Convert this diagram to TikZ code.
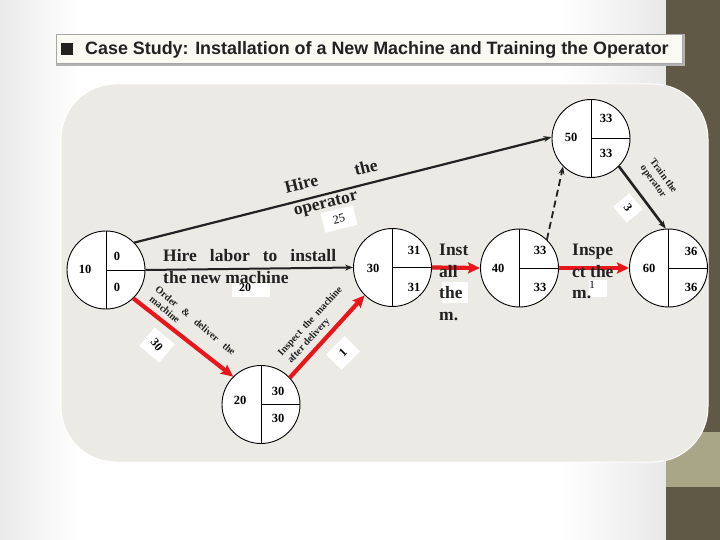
\documentclass[tikz,border=0pt]{standalone}
\usepackage{fontspec}
\setmainfont{Liberation Serif}
\newfontfamily\titlefont{Liberation Sans}
\usetikzlibrary{arrows.meta}

\definecolor{panel}{HTML}{EBEAE4}
\definecolor{barcol}{HTML}{5F5946}
\definecolor{khaki}{HTML}{A9A687}
\definecolor{redline}{HTML}{E8161B}
\definecolor{ink}{HTML}{222222}
\definecolor{titlefill}{HTML}{FAFAF2}

\tikzset{
  event/.style={circle, draw=black, line width=0.9pt, fill=white, minimum size=78pt, inner sep=0pt},
  divider/.style={draw=black, line width=0.9pt},
  num/.style={font=\fontsize{12.5}{14}\selectfont\bfseries, text=black, inner sep=0pt},
  blackarr/.style={draw=ink, line width=2.2pt, -{Stealth[length=8pt,width=6pt]}},
  redarr/.style={draw=redline, line width=4.2pt, -{Stealth[length=12pt,width=11pt,inset=2pt]}},
  big/.style={font=\fontsize{17.5}{21}\selectfont\bfseries, text=ink, inner sep=0pt},
  small/.style={font=\fontsize{10}{12}\selectfont\bfseries, text=ink, inner sep=0pt},
  durbox/.style={fill=white, draw=none, inner sep=0pt},
  dur/.style={font=\fontsize{12}{14}\selectfont, text=black, inner sep=0pt},
}

\begin{document}
\begin{tikzpicture}[x=1pt,y=-1pt]
\useasboundingbox (0,0) rectangle (720,540);
% background
\fill[white] (0,0) rectangle (720,540);
\shade[left color=black!8, right color=white] (0,0) rectangle (80,540);
\shade[left color=white, right color=black!9] (560,0) rectangle (666,540);
\fill[barcol] (666,0) rectangle (720,540);
\fill[khaki] (666,432) rectangle (720,487);
\draw[white, line width=1pt, fill=panel, rounded corners=55pt] (61,84) rectangle (708,462);

% title box
\fill[gray!60] (56,34) rectangle (685,66);
\draw[gray!70, fill=titlefill, line width=0.6pt] (56,34) rectangle (682,63);
\node[fill=ink, minimum size=12pt, inner sep=0pt] (bullet) at (67,49) {};
\node[anchor=base west, inner sep=0pt, text=ink, font=\titlefont\bfseries\fontsize{17.9}{20}\selectfont] (title) at (85,55) {Case Study: Installation of a New Machine and Training the Operator};

% events
\node[event] (n10) at (106,270) {};
\node[event] (n30) at (392.5,267.5) {};
\node[event] (n40) at (519.5,268) {};
\node[event] (n60) at (668.5,268) {};
\node[event] (n50) at (591,138.5) {};
\node[event] (n20) at (261,404.5) {};
\foreach \n in {n10,n30,n40,n60,n50,n20}{
  \draw[divider] (\n.north) -- (\n.south);
  \draw[divider] (\n.center) -- (\n.east);
}

% event numbers
\node[num] (t10a) at (85,269) {10};
\node[num] (t10b) at (117,256) {0};
\node[num] (t10c) at (117,287) {0};
\node[num] (t30a) at (373,268) {30};
\node[num] (t30b) at (414,250) {31};
\node[num] (t30c) at (414,287) {31};
\node[num] (t40a) at (498,268) {40};
\node[num] (t40b) at (540,250) {33};
\node[num] (t40c) at (540,287) {33};
\node[num] (t60a) at (649,268) {60};
\node[num] (t60b) at (691,251) {36};
\node[num] (t60c) at (691,287) {36};
\node[num] (t50a) at (571,137) {50};
\node[num] (t50b) at (606,118) {33};
\node[num] (t50c) at (606,153) {33};
\node[num] (t20a) at (240,400) {20};
\node[num] (t20b) at (278,391) {30};
\node[num] (t20c) at (278,418) {30};

% connectors
\draw[blackarr] (n10.44) -- (n50.178);
\draw[blackarr, line width=2pt] (n10.east) -- (n30.west);
\draw[redarr] (n10.-46) -- (n20.135);
\draw[redarr] (n20.43.5) -- (n30.225);
\draw[redarr] (n30.east) -- (n40.west);
\draw[redarr] (n40.east) -- (n60.west);
\draw[draw=ink, line width=1.8pt, dash pattern=on 7pt off 4pt, -{Stealth[length=8pt,width=6pt]}] (n40.46) -- (n50.225);
\draw[blackarr, line width=2.6pt] (n50.-45) -- (n60.94);

% duration boxes
\node[durbox, rotate=14, minimum width=33pt, minimum height=20pt] (b25) at (339,219) {};
\node[dur, rotate=14] (d25) at (339,219) {25};
\node[durbox, minimum width=38pt, minimum height=15pt] (b20) at (251,289) {};
\node[dur, font=\fontsize{12}{14}\selectfont\bfseries] (d20) at (245,288) {20};
\node[durbox, rotate=-40, minimum width=26pt, minimum height=24pt] (b30) at (157,345) {};
\node[dur, font=\fontsize{12}{14}\selectfont\bfseries, rotate=-50] (d30) at (157,345) {30};
\node[durbox, rotate=45, minimum width=26pt, minimum height=22pt] (b1) at (343,353) {};
\node[dur, font=\fontsize{12}{14}\selectfont\bfseries, rotate=45] (d1) at (343,353) {1};
\node[durbox, rotate=40, minimum size=21pt] (b3) at (628,208) {};
\node[dur, font=\fontsize{12}{14}\selectfont\bfseries, rotate=-54] (d3) at (628,208) {3};
\node[durbox, minimum width=26pt, minimum height=21pt] (binst) at (455,292.5) {};
\node[durbox, minimum width=18pt, minimum height=17pt] (binsp) at (598,288.5) {};
\node[dur, font=\fontsize{11}{13}\selectfont] (dinsp) at (592,285) {1};

% activity labels
\node[big, rotate=14] (ho1) at (331,176) {\makebox[95pt][s]{Hire the}};
\node[big, rotate=14] (ho2) at (326,205) {operator};
\node[big, anchor=base west] (hl1) at (163,261) {\makebox[173pt][s]{Hire labor to install}};
\node[big, anchor=base west] (hl2) at (163,283) {the new machine};
\node[small, rotate=-40] (od1) at (195.5,320.5) {\makebox[101pt][s]{Order \& deliver the}};
\node[small, rotate=-40] (od2) at (165,309.5) {machine};
\node[small, rotate=47.5] (id1) at (310.5,321.5) {\makebox[90pt][s]{Inspect the machine}};
\node[small, rotate=47.5] (id2) at (309,341) {after delivery};
\node[small, rotate=-54] (to1) at (664,175.5) {Train the};
\node[small, rotate=-54] (to2) at (652.5,182) {operator};
\node[big, anchor=base west] (in1) at (439,255) {Inst};
\node[big, anchor=base west] (in2) at (439,277) {all};
\node[big, anchor=base west] (in3) at (439,298) {the};
\node[big, anchor=base west] (in4) at (439,320) {m.};
\node[big, anchor=base west] (is1) at (572,255) {Inspe};
\node[big, anchor=base west] (is2) at (572,277) {ct the};
\node[big, anchor=base west] (is3) at (572,298) {m.};
\end{tikzpicture}
\end{document}
